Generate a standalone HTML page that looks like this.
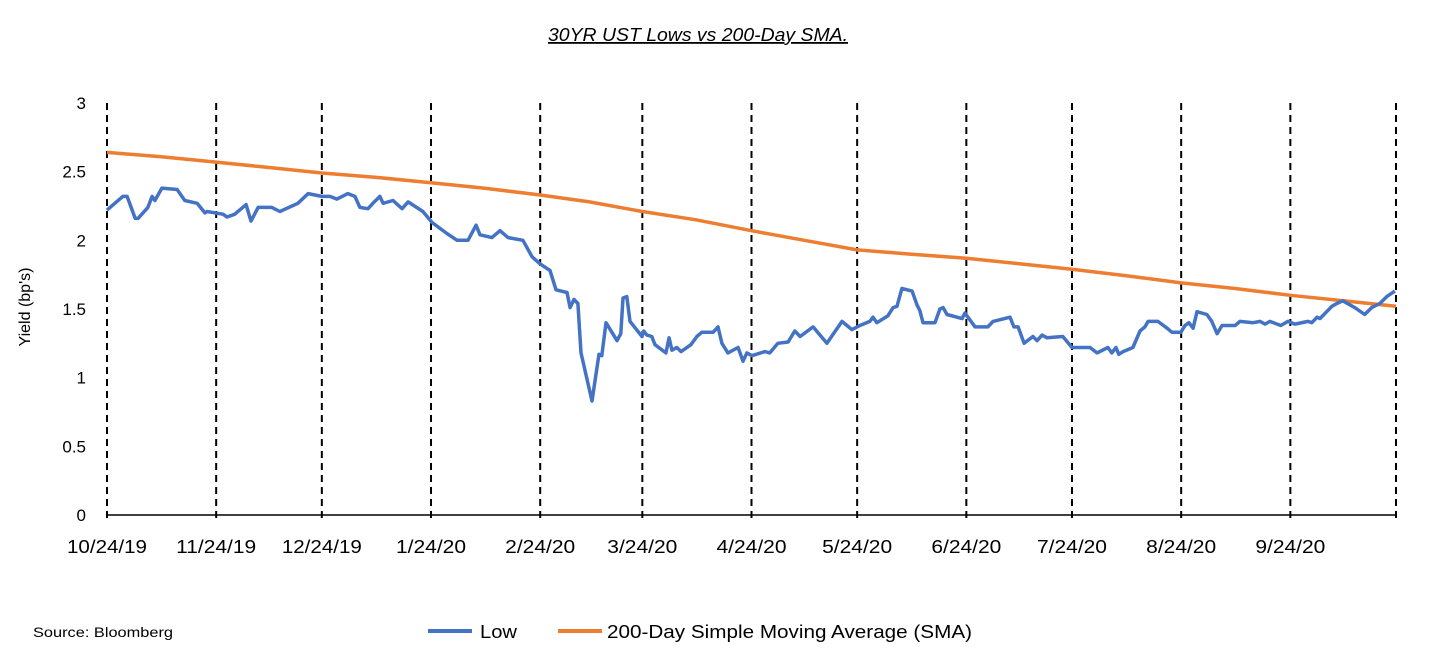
<!DOCTYPE html>
<html><head><meta charset="utf-8"><style>
html,body{margin:0;padding:0;background:#fff;}
svg{display:block;font-family:"Liberation Sans",sans-serif;}
</style></head><body>
<svg id="chart" width="1435" height="651">
<text x="548" y="41" font-size="18" font-style="italic" text-decoration="underline" textLength="300" lengthAdjust="spacingAndGlyphs">30YR UST Lows vs 200-Day SMA.</text>
<text transform="translate(30,307) rotate(-90)" text-anchor="middle" font-size="16">Yield (bp's)</text>
<g id="grid"></g><g id="yt"></g><g id="xt"></g><g id="series"></g>
<text x="33" y="637" font-size="14" textLength="140" lengthAdjust="spacingAndGlyphs">Source: Bloomberg</text>
<g>
<line x1="428" y1="631" x2="472" y2="631" stroke="#4472C4" stroke-width="4"/>
<text x="480" y="638" font-size="18" textLength="37" lengthAdjust="spacingAndGlyphs">Low</text>
<line x1="558" y1="631" x2="602" y2="631" stroke="#ED7D31" stroke-width="4"/>
<text x="607" y="638" font-size="18" textLength="365" lengthAdjust="spacingAndGlyphs">200-Day Simple Moving Average (SMA)</text>
</g>
</svg>
<script>
const xTickLabels=["10/24/19","11/24/19","12/24/19","1/24/20","2/24/20","3/24/20","4/24/20","5/24/20","6/24/20","7/24/20","8/24/20","9/24/20"];
const xTickDays=[0,31,61,92,123,152,183,213,244,274,305,336,366];
const yTicks=[0,0.5,1,1.5,2,2.5,3];
const lowDays=[0,4.5,5.7,8,8.8,11.6,12.8,13.6,15.6,19.9,22.1,25.6,27.8,28.4,32.9,34.1,36.3,39.5,40.9,42.9,46.8,49.1,54.2,57.1,61,63.3,65.3,68.4,70.4,71.8,74.1,75.5,77.5,78.4,81.2,83.8,85.5,89.7,92.3,96.5,99.4,102.5,104.8,105.9,109.3,111.6,113.9,118.1,120.7,122.9,125.8,127.5,130.6,131.5,132.6,133.7,134.6,137.7,139.7,140.5,141.7,144.8,145.9,146.5,147.6,148.5,151.9,152.4,153.3,154.7,155.6,158.7,159.6,160.4,161.8,163,165.8,167.5,168.9,172.1,173.5,174.6,176.3,179.2,180.6,181.7,183.1,186.8,188.2,190.5,193.4,195.3,196.8,200.5,204.4,208.7,211.5,213.8,216.6,217.5,218.6,221.7,223.2,224.3,225.7,228.6,230,230.8,231.7,235.1,236.5,237.4,238.5,242.8,243.6,246.5,250.1,251.6,256.4,257.5,258.7,260.4,262.9,264.1,265.5,266.9,271.4,274,279.1,281.1,284.2,285.3,286.5,287.3,288.5,291.3,293.3,294.7,295.6,298.4,301,302.4,304.9,306.1,307.2,308.4,309.5,312.3,313.7,315.2,316.6,320.3,321.7,325.4,327.4,328.8,330.2,333.3,335.3,337.3,341,342.1,343.6,344.4,347.8,349.2,350.9,354.3,357.1,359.1,361.4,363.4,365.7];
const lowValues=[2.22,2.32,2.32,2.16,2.16,2.24,2.32,2.29,2.38,2.37,2.29,2.27,2.20,2.21,2.19,2.17,2.19,2.26,2.14,2.24,2.24,2.21,2.27,2.34,2.32,2.32,2.30,2.34,2.32,2.24,2.23,2.27,2.32,2.27,2.29,2.23,2.28,2.21,2.13,2.05,2.00,2.00,2.11,2.04,2.02,2.07,2.02,2.00,1.88,1.83,1.78,1.64,1.62,1.51,1.57,1.54,1.18,0.83,1.17,1.16,1.40,1.27,1.32,1.58,1.59,1.41,1.30,1.34,1.31,1.30,1.24,1.18,1.29,1.20,1.22,1.19,1.24,1.30,1.33,1.33,1.37,1.25,1.18,1.22,1.12,1.18,1.16,1.19,1.18,1.25,1.26,1.34,1.30,1.37,1.25,1.41,1.35,1.38,1.41,1.44,1.40,1.45,1.51,1.52,1.65,1.63,1.53,1.49,1.40,1.40,1.50,1.51,1.46,1.43,1.47,1.37,1.37,1.41,1.44,1.37,1.37,1.25,1.30,1.27,1.31,1.29,1.30,1.22,1.22,1.18,1.22,1.18,1.22,1.17,1.19,1.22,1.34,1.37,1.41,1.41,1.36,1.33,1.33,1.38,1.40,1.36,1.48,1.46,1.41,1.32,1.38,1.38,1.41,1.40,1.41,1.39,1.41,1.38,1.41,1.39,1.41,1.40,1.44,1.43,1.52,1.54,1.56,1.51,1.46,1.51,1.54,1.59,1.63];
const smaDays=[0,15,31,46,61,76,92,107,123,137,152,167,183,198,213,228,244,259,274,290,305,320,336,351,366];
const smaValues=[2.64,2.61,2.57,2.53,2.49,2.46,2.42,2.38,2.33,2.28,2.21,2.15,2.07,2.00,1.93,1.90,1.87,1.83,1.79,1.74,1.69,1.65,1.60,1.56,1.52];
const X0=107,X1=1396,Y0=515,Y1=103;
const xs=d=>X0+d*(X1-X0)/366;
const ys=v=>Y0-v*(Y0-Y1)/3;
const NS="http://www.w3.org/2000/svg";
function mk(tag,parent){const e=document.createElementNS(NS,tag);document.getElementById(parent).appendChild(e);return e;}
xTickDays.forEach((d,i)=>{
  const l=mk('line','grid');
  
  
  l.setAttribute('x1',xs(d));l.setAttribute('x2',xs(d));l.setAttribute('y1',Y1);l.setAttribute('y2',Y0+6);
  l.setAttribute('stroke','#000');l.setAttribute('stroke-width','2');l.setAttribute('stroke-dasharray','7,5');
  if(i<xTickLabels.length){
    const t=mk('text','xt');
    
    
    t.setAttribute('x',xs(d));t.setAttribute('y',553);t.setAttribute('text-anchor','middle');t.setAttribute('font-size','18');
    t.setAttribute('textLength',xTickLabels[i].length*10);t.setAttribute('lengthAdjust','spacingAndGlyphs');
    t.textContent=xTickLabels[i];
  }
});
const ax=mk('line','grid');


ax.setAttribute('x1',X0);ax.setAttribute('x2',X1);ax.setAttribute('y1',Y0);ax.setAttribute('y2',Y0);ax.setAttribute('stroke','#000');ax.setAttribute('stroke-width','1.5');
yTicks.forEach(v=>{
  const t=mk('text','yt');
  
  
  t.setAttribute('x',86);t.setAttribute('y',ys(v)+6);t.setAttribute('text-anchor','end');t.setAttribute('font-size','17');
  t.textContent=String(v);
});
function line(days,vals,color,name){
  const p=mk('polyline','series');
  
  
  p.setAttribute('points',days.map((d,i)=>xs(d).toFixed(1)+','+ys(vals[i]).toFixed(1)).join(' '));
  p.setAttribute('fill','none');p.setAttribute('stroke',color);p.setAttribute('stroke-width','3.5');p.setAttribute('stroke-linejoin','round');
}
line(smaDays,smaValues,'#ED7D31','sma-line');
line(lowDays,lowValues,'#4472C4','low-line');
</script>
</body></html>
